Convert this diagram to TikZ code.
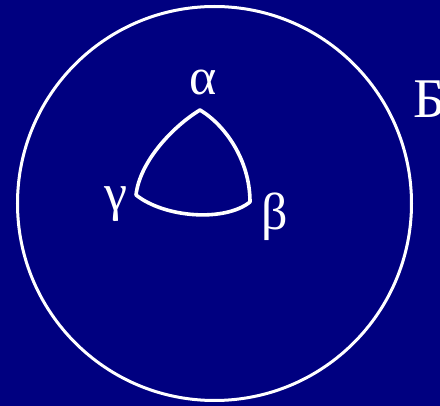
\documentclass[tikz,border=0pt]{standalone}
\usepackage{fontspec}
\setmainfont{Liberation Serif}
\newfontfamily\letterfont{Liberation Serif}
\definecolor{navyblue}{RGB}{0,0,128}
\tikzset{
  curve/.style={white, line width=3.6pt, line join=round},
  label/.style={white, inner sep=0pt, font=\letterfont\fontsize{52}{52}\selectfont}
}
\begin{document}
\begin{tikzpicture}[x=1pt,y=-1pt]
        \fill[navyblue] (0,0) rectangle (440,406);
        \useasboundingbox (0,0) rectangle (440,406);
        % the sphere
        \draw[white, line width=3pt] (214.5,203.5) circle [radius=197pt];
        % vertices of the triangle
        \coordinate (a) at (200,110);
        \coordinate (b) at (250,202);
        \coordinate (c) at (136,195);
        \draw[curve] (a) .. controls (225,125) and (250,160) .. (b)
                         .. controls (225,222) and (165,218) .. (c)
                         .. controls (140,160) and (175,125) .. (a) -- cycle;
        \node[label, anchor=base] (alpha) at (203,95) {α};
        \node[label, anchor=base] (beta) at (275,230) {β};
        \node[label, anchor=base] (gamma) at (116,211) {γ};
        \node[label, anchor=base west, font=\letterfont\fontsize{56}{56}\selectfont] (ball) at (413,118) {Б};
    \end{tikzpicture}
\end{document}
